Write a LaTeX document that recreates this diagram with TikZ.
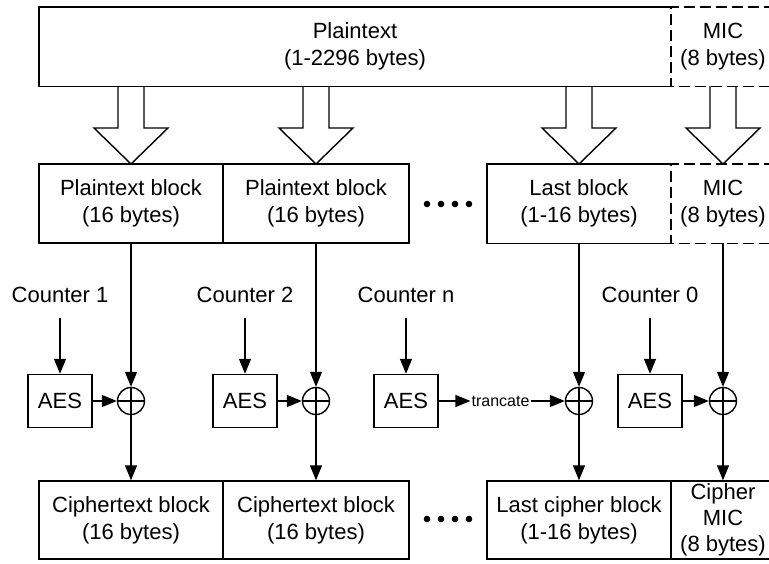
\documentclass[tikz,border=0pt]{standalone}
\usepackage{fontspec}
\setmainfont{Liberation Sans}
\usetikzlibrary{arrows.meta}
\tikzset{
  blk/.style={draw,line width=1.4pt,minimum height=79pt,inner sep=0pt,align=center},
  lbl/.style={inner sep=1pt,align=center},
  aesbox/.style={draw,line width=1.4pt,minimum width=64pt,minimum height=53pt,inner sep=0pt},
  xor/.style={draw,circle,line width=1.4pt,minimum size=27pt,inner sep=0pt,
    path picture={\draw[line width=1.4pt] (path picture bounding box.north) -- (path picture bounding box.south)
      (path picture bounding box.west) -- (path picture bounding box.east);}},
  flow/.style={line width=1.4pt,-{Triangle[length=15pt,width=12pt]}},
  hollow/.style={line width=1.4pt,fill=white,line join=miter},
  frame/.style={line width=1.4pt},
  micdash/.style={line width=1.4pt,dash pattern=on 11pt off 5pt}
}

\begin{document}
\begin{tikzpicture}[x=1pt,y=-1pt,font=\fontsize{22}{27}\selectfont]
  \useasboundingbox (0,0) rectangle (769,563);
  \node[lbl,minimum width=632pt,minimum height=79pt] (pt) at (355,46.5) {Plaintext\\(1-2296 bytes)};
  \node[lbl,minimum width=104pt,minimum height=79pt] (mic) at (723,46.5) {MIC\\(8 bytes)};

  \foreach \c in {131,316,579,723}
    \draw[hollow] (\c-13,86) -- (\c-13,128) -- (\c-37,128) -- (\c,164) -- (\c+37,128) -- (\c+13,128) -- (\c+13,86);

  \draw[frame] (pt.north east) -- (pt.north west) -- (pt.south west) -- (pt.south east);
  \draw[micdash] (mic.north east) -- (mic.north west) -- (mic.south west) -- (mic.south east);

  \node[blk,minimum width=184pt] (pb1) at (131,203.5) {Plaintext block\\(16 bytes)};
  \node[blk,minimum width=186pt] (pb2) at (316,203.5) {Plaintext block\\(16 bytes)};
  \node[lbl,minimum width=184pt,minimum height=79pt] (lb) at (579,203.5) {Last block\\(1-16 bytes)};
  \node[lbl,minimum width=104pt,minimum height=79pt] (mic2) at (723,203.5) {MIC\\(8 bytes)};
  \draw[frame] (lb.north east) -- (lb.north west) -- (lb.south west) -- (lb.south east);
  \draw[micdash] (mic2.north east) -- (mic2.north west) -- (mic2.south west) -- (mic2.south east);

  \node (c1) at (60,295) {Counter 1};
  \node (c2) at (245,295) {Counter 2};
  \node (cn) at (406,295) {Counter n};
  \node (c0) at (650,295) {Counter 0};

  \node[aesbox] (a1) at (60,401) {AES};
  \node[aesbox] (a2) at (245,401) {AES};
  \node[aesbox] (a3) at (406,401) {AES};
  \node[aesbox] (a4) at (650,401) {AES};

  \node[xor] (x1) at (131,401) {};
  \node[xor] (x2) at (316,401) {};
  \node[xor] (x3) at (579,401) {};
  \node[xor] (x4) at (723,401) {};

  \node[inner sep=1pt,font=\fontsize{16}{18}\selectfont] (tr) at (500.5,401) {trancate};

  \node[blk,minimum width=184pt,minimum height=78pt] (cb1) at (131,520) {Ciphertext block\\(16 bytes)};
  \node[blk,minimum width=186pt,minimum height=78pt] (cb2) at (316,520) {Ciphertext block\\(16 bytes)};
  \node[blk,minimum width=184pt,minimum height=78pt] (lcb) at (579,520) {Last cipher block\\(1-16 bytes)};
  \node[blk,minimum width=104pt,minimum height=78pt,font=\fontsize{22}{26}\selectfont] (cmic) at (723,520) {Cipher\\MIC\\(8 bytes)};

  \draw[flow] (pb1) -- (x1);
  \draw[flow] (pb2) -- (x2);
  \draw[flow] (lb) -- (x3);
  \draw[flow] (mic2) -- (x4);
  \draw[flow,shorten <=12pt] (c1) -- (a1);
  \draw[flow,shorten <=12pt] (c2) -- (a2);
  \draw[flow,shorten <=12pt] (cn) -- (a3);
  \draw[flow,shorten <=12pt] (c0) -- (a4);
  \draw[flow] (a1) -- (x1);
  \draw[flow] (a2) -- (x2);
  \draw[flow] (a3) -- (tr);
  \draw[flow] (tr) -- (x3);
  \draw[flow] (a4) -- (x4);
  \draw[flow] (x1) -- (cb1);
  \draw[flow] (x2) -- (cb2);
  \draw[flow] (x3) -- (lcb);
  \draw[flow] (x4) -- (cmic);

  \foreach \i in {0,...,3} {
    \fill (427+\i*14,204) circle (3.3);
    \fill (427+\i*14,519) circle (3.3);
  }
\end{tikzpicture}
\end{document}
